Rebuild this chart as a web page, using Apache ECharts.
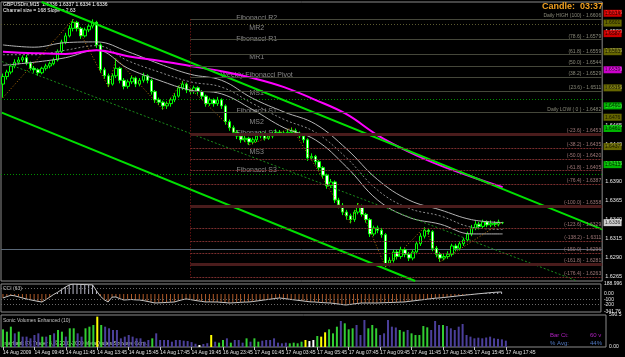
<!DOCTYPE html>
<html><head><meta charset="utf-8">
<script src="https://cdn.jsdelivr.net/npm/echarts@6/dist/echarts.min.js"></script>
<style>html,body{margin:0;padding:0;background:#000;}#c{width:625px;height:357px;}</style>
</head><body><div id="c"></div>
<script>
const FONT = 'Liberation Sans, Arial, sans-serif';
const timeLabels = ['14 Aug 2009','14 Aug 09:45','14 Aug 11:45','14 Aug 13:45','14 Aug 15:45','14 Aug 17:45','14 Aug 19:45','16 Aug 23:45','17 Aug 01:45','17 Aug 03:45','17 Aug 05:45','17 Aug 07:45','17 Aug 09:45','17 Aug 11:45','17 Aug 13:45','17 Aug 15:45','17 Aug 17:45'];
const slotCount = 154;
const opens = [1.6520,1.6530,1.6536,1.6544,1.6549,1.6552,1.6555,1.6548,1.6541,1.6539,
1.6535,1.6541,1.6544,1.6547,1.6552,1.6563,1.6576,1.6584,1.6594,1.6602,
1.6594,1.6584,1.6592,1.6597,1.6602,1.6572,1.6539,1.6531,1.6520,1.6531,
1.6541,1.6525,1.6517,1.6523,1.6528,1.6520,1.6525,1.6531,1.6525,1.6510,
1.6499,1.6496,1.6491,1.6494,1.6499,1.6504,1.6515,1.6520,1.6512,1.6510,
1.6515,1.6510,1.6504,1.6494,1.6499,1.6494,1.6499,1.6491,1.6470,1.6462,
1.6456,1.6451,1.6446,1.6448,1.6443,1.6446,1.6451,1.6454,1.6448,1.6451,
1.6454,1.6456,1.6455,1.6454,1.6456,1.6458,1.6455,1.6451,1.6446,1.6422,
1.6424,1.6417,1.6409,1.6399,1.6385,1.6390,1.6366,1.6359,1.6350,1.6345,
1.6340,1.6350,1.6358,1.6347,1.6340,1.6321,1.6329,1.6326,1.6320,1.6281,
1.6286,1.6297,1.6291,1.6300,1.6294,1.6289,1.6297,1.6308,1.6318,1.6326,
1.6324,1.6302,1.6294,1.6289,1.6291,1.6294,1.6305,1.6302,1.6308,1.6313,
1.6321,1.6329,1.6334,1.6331,1.6337,1.6333,1.6335,1.6334,1.6336];
const closes = [1.6530,1.6536,1.6544,1.6549,1.6552,1.6555,1.6548,1.6541,1.6539,1.6535,
1.6541,1.6544,1.6547,1.6552,1.6563,1.6576,1.6584,1.6594,1.6602,1.6594,
1.6584,1.6592,1.6597,1.6602,1.6572,1.6539,1.6531,1.6520,1.6531,1.6541,
1.6525,1.6517,1.6523,1.6528,1.6520,1.6525,1.6531,1.6525,1.6510,1.6499,
1.6496,1.6491,1.6494,1.6499,1.6504,1.6515,1.6520,1.6512,1.6510,1.6515,
1.6510,1.6504,1.6494,1.6499,1.6494,1.6499,1.6491,1.6470,1.6462,1.6456,
1.6451,1.6446,1.6448,1.6443,1.6446,1.6451,1.6454,1.6448,1.6451,1.6454,
1.6456,1.6455,1.6454,1.6456,1.6458,1.6455,1.6451,1.6446,1.6422,1.6424,
1.6417,1.6409,1.6399,1.6385,1.6390,1.6366,1.6359,1.6350,1.6345,1.6340,
1.6350,1.6358,1.6347,1.6340,1.6321,1.6329,1.6326,1.6320,1.6281,1.6286,
1.6297,1.6291,1.6300,1.6294,1.6289,1.6297,1.6308,1.6318,1.6326,1.6324,
1.6302,1.6294,1.6289,1.6291,1.6294,1.6305,1.6302,1.6308,1.6313,1.6321,
1.6329,1.6334,1.6331,1.6337,1.6333,1.6335,1.6334,1.6337,1.6336];
const highs = [1.6534,1.6539,1.6547,1.6553,1.6556,1.6558,1.6559,1.6550,1.6544,1.6541,
1.6543,1.6547,1.6550,1.6555,1.6566,1.6579,1.6588,1.6598,1.6606,1.6604,
1.6596,1.6595,1.6600,1.6606,1.6604,1.6574,1.6542,1.6534,1.6534,1.6554,
1.6543,1.6528,1.6526,1.6531,1.6530,1.6528,1.6535,1.6533,1.6527,1.6512,
1.6502,1.6498,1.6497,1.6502,1.6508,1.6518,1.6524,1.6522,1.6515,1.6518,
1.6517,1.6512,1.6506,1.6502,1.6501,1.6503,1.6501,1.6493,1.6473,1.6465,
1.6459,1.6454,1.6451,1.6450,1.6449,1.6454,1.6457,1.6456,1.6454,1.6457,
1.6460,1.6459,1.6458,1.6460,1.6462,1.6461,1.6457,1.6453,1.6448,1.6428,
1.6426,1.6419,1.6411,1.6401,1.6394,1.6392,1.6369,1.6362,1.6353,1.6348,
1.6353,1.6362,1.6360,1.6349,1.6342,1.6332,1.6332,1.6329,1.6322,1.6290,
1.6300,1.6300,1.6304,1.6302,1.6297,1.6300,1.6311,1.6322,1.6330,1.6329,
1.6326,1.6305,1.6297,1.6295,1.6298,1.6308,1.6308,1.6311,1.6316,1.6324,
1.6333,1.6338,1.6337,1.6340,1.6339,1.6339,1.6338,1.6340,1.6337];
const lows = [1.6502,1.6526,1.6533,1.6541,1.6546,1.6549,1.6545,1.6538,1.6535,1.6531,
1.6533,1.6538,1.6541,1.6545,1.6550,1.6561,1.6573,1.6582,1.6590,1.6590,
1.6580,1.6582,1.6589,1.6594,1.6568,1.6535,1.6527,1.6516,1.6518,1.6528,
1.6521,1.6513,1.6514,1.6520,1.6516,1.6517,1.6522,1.6521,1.6506,1.6495,
1.6492,1.6486,1.6487,1.6490,1.6496,1.6502,1.6512,1.6508,1.6506,1.6507,
1.6506,1.6500,1.6490,1.6491,1.6490,1.6491,1.6487,1.6466,1.6458,1.6452,
1.6447,1.6442,1.6443,1.6439,1.6440,1.6443,1.6448,1.6445,1.6446,1.6448,
1.6451,1.6452,1.6451,1.6451,1.6453,1.6452,1.6448,1.6442,1.6418,1.6419,
1.6413,1.6405,1.6395,1.6381,1.6382,1.6362,1.6355,1.6346,1.6340,1.6335,
1.6337,1.6347,1.6344,1.6336,1.6317,1.6318,1.6322,1.6316,1.6277,1.6278,
1.6283,1.6287,1.6288,1.6290,1.6285,1.6286,1.6294,1.6305,1.6315,1.6320,
1.6298,1.6290,1.6284,1.6286,1.6288,1.6291,1.6298,1.6299,1.6305,1.6310,
1.6318,1.6326,1.6327,1.6328,1.6330,1.6330,1.6331,1.6331,1.6334];

const maIndex = [0,8,16,24,32,40,48,56,64,72,80,88,96,104,112,120,128];
const maUpper = [1.6572,1.6569,1.6575,1.6576,1.6563,1.6547,1.6533,1.6525,1.6501,1.6483,1.6467,1.6434,1.6393,1.6366,1.6353,1.6340,1.6336];
const maMid   = [1.6559,1.6559,1.6565,1.6571,1.6551,1.6536,1.6523,1.6516,1.6494,1.6473,1.6456,1.6422,1.6379,1.6355,1.6345,1.6330,1.6327];
const maLower = [1.6545,1.6549,1.6555,1.6565,1.6541,1.6525,1.6512,1.6507,1.6486,1.6462,1.6446,1.6410,1.6366,1.6343,1.6334,1.6321,1.6321];
const maSlow  = [1.6563,1.6561,1.6560,1.6565,1.6557,1.6551,1.6544,1.6537,1.6528,1.6516,1.6499,1.6480,1.6452,1.6430,1.6412,1.6397,1.6383];

const channelUpper = [[9.9, 1.6629], [153.5, 1.6327]];
const channelLower = [[-0.3, 1.6482], [105.6, 1.62585]];
const channelMid   = [[-0.3, 1.6550], [147.1, 1.62585]];
const zigzagIdx = [0,18,27,29,41,46,63,74,89,91,98,108,112,128];
const zigzagVal = [1.6502,1.6606,1.6516,1.6554,1.6486,1.6524,1.6439,1.6462,1.6335,1.6362,1.6277,1.6330,1.6284,1.6337];

const pivotNames  = ['Fibonacci R2','MR2','Fibonacci R1','MR1','Weekly Fibonacci Pivot','MS1','Fibonacci S1','MS2','Fibonacci S2','MS3','Fibonacci S3'];
const pivotValues = [1.6614,1.6601,1.6587,1.6563,1.6539,1.6515,1.6491,1.6476,1.6461,1.6437,1.6413];
const pivotKinds  = ['R','M','R','M','P','M','S','M','S','M','S'];

const fibNames  = ['Daily HIGH (100)','(78.6)','(61.8)','(50.0)','(38.2)','(23.6)','Daily LOW ( 0 )','(-23.6)','(-38.2)','(-50.0)','(-61.8)','(-76.4)','(-100.0)','(-123.6)','(-138.2)','(-150.0)','(-161.8)','(-176.4)'];
const fibPrices = [1.6606,1.6579,1.6559,1.6544,1.6529,1.6511,1.6482,1.6453,1.6435,1.6420,1.6405,1.6387,1.6358,1.6329,1.6311,1.6296,1.6281,1.6263];
const fibStartIndex = 48;
const lastPrice = 1.6336;
const priceTicks = [1.6265,1.6290,1.6315,1.6340,1.6365,1.6390,1.6415,1.6440,1.6465,1.6490,1.6515,1.6540,1.6565,1.6590,1.6615];

const cci = [-76,-50,-25,-35,-55,-76,-95,-110,-125,-140,-152,-110,-60,-10,30,80,130,170,189,185,
180,178,175,172,60,-40,-110,-152,-60,-57,-90,-114,-110,-105,-112,-114,-125,-140,-155,-171,
-168,-165,-160,-156,-152,-130,-110,-95,-105,-118,-130,-140,-152,-150,-152,-152,-158,-163,-171,-168,
-163,-158,-154,-152,-145,-135,-125,-114,-105,-95,-85,-76,-85,-95,-105,-114,-123,-132,-142,-150,
-152,-158,-163,-168,-171,-180,-190,-200,-209,-200,-190,-180,-171,-171,-171,-171,-171,-168,-165,-163,
-160,-157,-154,-152,-143,-134,-125,-116,-107,-98,-89,-80,-76,-68,-60,-52,-44,-35,-27,-19,
-12,-4,3,10,17,24,30,35,38];
const cciTicks = [188.996, 0, -100, -200, -341.76];

const volume = [326,283,375,252,283,191,191,160,221,252,191,191,221,252,314,283,191,345,345,252,
191,345,375,406,560,406,375,345,314,314,160,191,221,191,160,160,98,129,160,252,
129,129,129,98,129,129,117,110,90,60,37,55,70,221,98,80,129,160,80,129,
129,80,160,98,160,98,117,129,129,160,80,68,80,68,80,68,98,129,110,129,
203,191,271,326,252,375,480,437,326,345,406,221,498,345,406,345,221,252,498,375,
360,314,283,314,252,221,221,387,363,314,480,406,406,387,345,314,375,424,221,191,
160,172,160,175,191,160,150,141,117];
const volumeKind = 'gggbgbbbbbgbgbggbggbbgggygbbbbbbbbbbbbgbbbbbbbbbbbwbbybggbgbbbgbggbbbbbbbggggywwgyygggbgggbbbgggbbbbbggbgggggbbbgbbbbbbbbbbb';
const volMax = 590.5;

const boxColors = {R:'#ff0000', M:'#808000', P:'#ff00ff', S:'#00e000', L:'#ffffff'};
const lineColors = {R:'#b01818', M:'#5a5a30', P:'#c000c0', S:'#009000'};
const volColors = {g:'#32cd32', b:'#4b3f9a', y:'#ffff00', w:'#ffffff'};

const cats = Array.from({length: slotCount}, (_, i) => String(i));
const candleData = opens.map((o, i) => [o, closes[i], lows[i], highs[i]]);
const pairs = (idx, vals) => idx.map((x, i) => [x, vals[i]]);
const boxX = 156.17;

const chart = echarts.init(document.getElementById('c'), null, {renderer: 'canvas'});
const txt = (extra) => Object.assign({fontFamily: FONT, fontSize: 5}, extra);

const pivotMark = pivotValues.map((v, k) => ({
  yAxis: v, lineStyle: {color: lineColors[pivotKinds[k]], type: [1, 2], width: 1}
}));
pivotMark.push({yAxis: lastPrice, lineStyle: {color: '#5a6878', type: 'solid', width: 1}});

const boxData = pivotValues.map((v, k) => ({value: [boxX, v], label: {formatter: v.toFixed(4)}, itemStyle: {color: boxColors[pivotKinds[k]]}}));
boxData.push({value: [boxX, lastPrice], label: {formatter: lastPrice.toFixed(4)}, itemStyle: {color: boxColors.L}});

const fibMark = fibPrices.map((p, k) => {
  const ext = k > 6;
  const thick = (k === 7 || k === 12 || k === 16);
  return [
    {coord: [fibStartIndex, p],
     lineStyle: {color: ext ? (thick ? '#4a1c1c' : '#7a2e2e') : '#45473a', width: thick ? 3 : 1, type: ext && !thick ? [2, 1] : 'solid'},
     label: {show: true, position: 'insideEndTop', distance: 1, formatter: fibNames[k] + ' - ' + p.toFixed(4),
       color: ext ? '#a07878' : '#8a8a7a', fontSize: 5, fontFamily: FONT}},
    {coord: [slotCount - 0.5, p]}
  ];
});
fibMark.push([
  {coord: [fibStartIndex, fibPrices[0]], lineStyle: {color: '#8b1a1a', type: [1, 2], width: 1}, label: {show: false}},
  {coord: [fibStartIndex, fibPrices[fibPrices.length - 1]]}
]);

const option = {
  backgroundColor: '#000000',
  animation: false,
  grid: [
    {left: 1, top: 2, width: 605, height: 279, show: true, borderColor: '#8a8a8a', borderWidth: 1},
    {left: 1, top: 284, width: 605, height: 28, show: true, borderColor: '#8a8a8a', borderWidth: 1},
    {left: 1, top: 315, width: 605, height: 32, show: true, borderColor: '#8a8a8a', borderWidth: 1}
  ],
  xAxis: [
    {type: 'category', gridIndex: 0, data: cats, boundaryGap: true, show: false},
    {type: 'value', gridIndex: 0, min: -0.5, max: slotCount - 0.5, show: false},
    {type: 'category', gridIndex: 1, data: cats, boundaryGap: true, show: false},
    {type: 'category', gridIndex: 2, data: cats, boundaryGap: true,
      axisLine: {show: false},
      axisTick: {show: true, length: 3, lineStyle: {color: '#c0c0c0'}, alignWithLabel: true,
        interval: (i) => i % 8 === 0 && i / 8 < timeLabels.length},
      axisLabel: {show: true, interval: (i) => i % 8 === 0 && i / 8 < timeLabels.length,
        formatter: (v, i) => timeLabels[i / 8] || '', align: 'left', color: '#e0e0e0', fontSize: 5, fontFamily: FONT, margin: 3}}
  ],
  yAxis: [
    {type: 'value', gridIndex: 0, min: 1.62585, max: 1.6629, position: 'right',
      splitLine: {show: false}, axisLine: {show: false}, axisTick: {show: false},
      axisLabel: {customValues: priceTicks, formatter: (v) => v.toFixed(4), color: '#e8e8e8', fontSize: 5.5, fontFamily: FONT, margin: 3}},
    {type: 'value', gridIndex: 1, min: cciTicks[cciTicks.length - 1], max: cciTicks[0], position: 'right',
      splitLine: {show: false}, axisLine: {show: false}, axisTick: {show: false},
      axisLabel: {customValues: cciTicks, formatter: (v) => (v === 0 ? '0.00' : String(v)), color: '#e8e8e8', fontSize: 5, fontFamily: FONT, margin: 3}},
    {type: 'value', gridIndex: 2, min: 0, max: volMax, position: 'right',
      splitLine: {show: false}, axisLine: {show: false}, axisTick: {show: false},
      axisLabel: {customValues: [volMax, 0], formatter: (v) => (v === 0 ? '0.00' : String(v)), color: '#e8e8e8', fontSize: 5, fontFamily: FONT, margin: 3}}
  ],
  series: [
    {type: 'candlestick', xAxisIndex: 0, yAxisIndex: 0, data: candleData, barWidth: 3,
      itemStyle: {color: '#000000', color0: '#ffffff', borderColor: '#00ff00', borderColor0: '#00ff00', borderWidth: 1},
      markLine: {silent: true, symbol: ['none', 'none'], label: {show: false}, data: pivotMark, z: 1}},
    {type: 'line', xAxisIndex: 1, yAxisIndex: 0, data: [[-10, 1.64]], showSymbol: false,
      markLine: {silent: true, symbol: ['none', 'none'], data: fibMark}},
    {type: 'line', xAxisIndex: 1, yAxisIndex: 0, data: pairs(maIndex, maUpper), smooth: 0.4, showSymbol: false, lineStyle: {color: '#b4b4b4', width: 1}},
    {type: 'line', xAxisIndex: 1, yAxisIndex: 0, data: pairs(maIndex, maMid), smooth: 0.4, showSymbol: false, lineStyle: {color: '#8c8c8c', width: 1, type: [2, 2]}},
    {type: 'line', xAxisIndex: 1, yAxisIndex: 0, data: pairs(maIndex, maLower), smooth: 0.4, showSymbol: false, lineStyle: {color: '#b4b4b4', width: 1}},
    {type: 'line', xAxisIndex: 1, yAxisIndex: 0, data: pairs(maIndex, maSlow), smooth: 0.4, showSymbol: false, lineStyle: {color: '#ff00ff', width: 2}},
    {type: 'line', xAxisIndex: 1, yAxisIndex: 0, data: channelUpper, showSymbol: false, lineStyle: {color: '#00e000', width: 2}},
    {type: 'line', xAxisIndex: 1, yAxisIndex: 0, data: channelLower, showSymbol: false, lineStyle: {color: '#00e000', width: 2}},
    {type: 'line', xAxisIndex: 1, yAxisIndex: 0, data: channelMid, showSymbol: false, lineStyle: {color: '#1a8a1a', width: 1, type: [2, 2]}},
    {type: 'line', xAxisIndex: 1, yAxisIndex: 0, data: pairs(zigzagIdx, zigzagVal), showSymbol: false, lineStyle: {color: '#b8700a', width: 1, type: [1, 2]}},
    {type: 'scatter', xAxisIndex: 1, yAxisIndex: 0, symbolSize: 1, itemStyle: {color: 'rgba(0,0,0,0)'},
      data: pivotValues.map((v, k) => ({value: [65, v], name: pivotNames[k]})),
      label: {show: true, position: 'bottom', distance: 1, formatter: (p) => p.name, color: '#a8a8a8', fontSize: 7, fontFamily: FONT}},
    {type: 'scatter', xAxisIndex: 1, yAxisIndex: 0, clip: false, symbol: 'rect', symbolSize: [18, 7], z: 10,
      data: boxData, label: {show: true, position: 'inside', color: '#000', fontSize: 5, fontFamily: FONT}},
    {type: 'bar', xAxisIndex: 2, yAxisIndex: 1, barWidth: 1,
      data: cci.map((v) => ({value: v, itemStyle: {color: v >= 0 ? '#b8b8c8' : '#b05a28'}}))},
    {type: 'line', xAxisIndex: 2, yAxisIndex: 1, data: cci, showSymbol: false, lineStyle: {color: '#c8c8c8', width: 1},
      markLine: {silent: true, symbol: ['none', 'none'], label: {show: false},
        data: [{yAxis: 100}, {yAxis: -100}, {yAxis: -200}], lineStyle: {color: '#6a6a6a', type: [1, 2], width: 1}}},
    {type: 'bar', xAxisIndex: 3, yAxisIndex: 2, barWidth: 2,
      data: volume.map((v, i) => ({value: v, itemStyle: {color: volColors[volumeKind[i]] || volColors.b}}))}
  ],
  graphic: [
    {type: 'text', left: 3, top: 2, style: txt({text: 'GBPUSDm,M15  1.6336 1.6337 1.6334 1.6336', fill: '#ffffff'})},
    {type: 'text', left: 3, top: 8, style: txt({text: 'Channel size = 168 Slope = 2.63', fill: '#ffffff'})},
    {type: 'text', right: 22, top: 2, style: {text: 'Candle:  03:37', fill: '#f0a020', fontFamily: FONT, fontSize: 9, fontWeight: 'bold'}},
    {type: 'text', left: 3, top: 286, style: txt({text: 'CCI (63)', fill: '#c0c0c0'})},
    {type: 'text', left: 3, top: 318, style: txt({text: 'Sonic Volumes Enhanced (10)', fill: '#c0c0c0'})},
    {type: 'text', left: 3, top: 341, style: txt({text: 'Interbank FX Trader 4, \u00a9 2001-2009 MetaQuotes Software Corp.', fill: '#d0e0d0'})},
    {type: 'text', left: 550, top: 332, style: txt({text: 'Bar Ct:', fill: '#b020c0', fontSize: 6})},
    {type: 'text', left: 590, top: 332, style: txt({text: '60 v', fill: '#b020c0', fontSize: 6})},
    {type: 'text', left: 550, top: 340, style: txt({text: '% Avg:', fill: '#5078c0', fontSize: 6})},
    {type: 'text', left: 590, top: 340, style: txt({text: '44%', fill: '#5078c0', fontSize: 6})}
  ]
};
chart.setOption(option);
</script></body></html>
